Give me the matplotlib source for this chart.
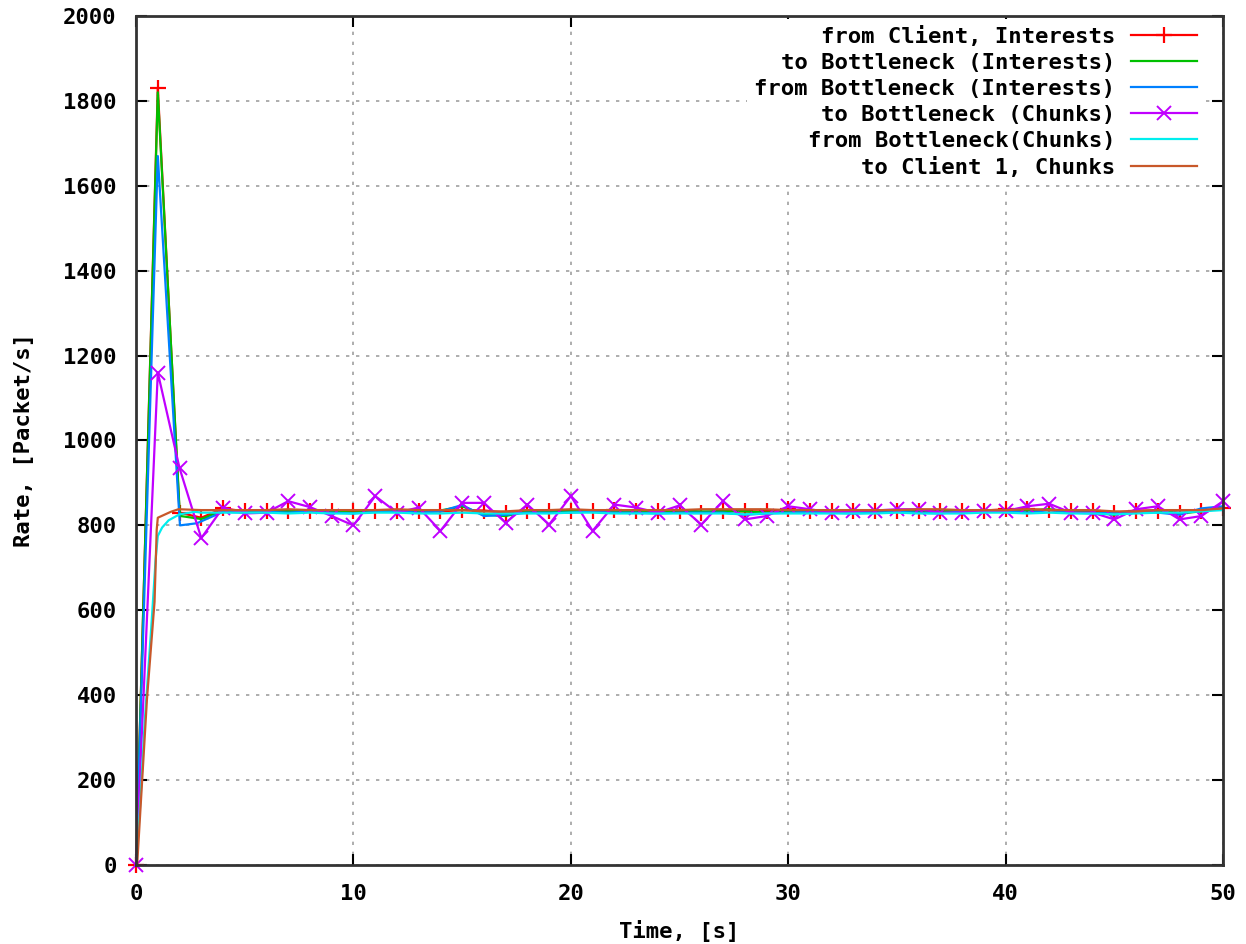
import matplotlib
matplotlib.use('Agg')
import matplotlib.pyplot as plt

# ---- data ----
t_int = list(range(0, 51))
t_steady = list(range(4, 51))

# from Client, Interests (points every second)
red_v = [0, 1830, 830, 818, 840, 833, 833, 835, 835, 833,
         833, 835, 833, 835, 833, 836, 835, 830, 835, 833,
         835, 833, 836, 833, 833, 835, 830, 835, 833, 833,
         838, 833, 833, 835, 835, 835, 835, 833, 835, 835,
         838, 838, 836, 833, 835, 830, 835, 835, 830, 833,
         842]

# to Bottleneck (Interests)
green_t = [0, 1, 2, 2.05, 3] + t_steady
green_v = [0, 1820, 838, 822, 815,
           835, 833, 833, 833, 835, 833, 830, 833, 835, 833,
           835, 845, 825, 822, 833, 833, 833, 835, 833, 833,
           833, 835, 833, 833, 833, 830, 833, 833, 833, 833,
           833, 835, 833, 833, 835, 835, 835, 835, 838, 833,
           830, 825, 833, 835, 828, 833, 840]

# from Bottleneck (Interests)
blue_t = [0, 1, 1.97, 2.02, 2.8] + t_steady
blue_v = [0, 1670, 840, 800, 805,
          832, 830, 832, 830, 833, 830, 828, 832, 833, 830,
          833, 848, 822, 825, 830, 830, 830, 833, 830, 830,
          828, 830, 830, 830, 825, 828, 830, 832, 830, 828,
          830, 832, 830, 828, 833, 833, 835, 830, 836, 830,
          828, 830, 833, 830, 825, 840, 845]

# to Bottleneck (Chunks)
mag_v = [0, 1160, 935, 770, 842, 828, 830, 857, 843, 822,
         800, 869, 830, 842, 787, 853, 853, 806, 849, 802,
         869, 787, 849, 842, 830, 847, 802, 857, 814, 822,
         845, 838, 830, 834, 835, 838, 838, 830, 830, 834,
         834, 845, 851, 830, 830, 814, 838, 845, 814, 822,
         857]

# from Bottleneck(Chunks)
cyan_t = [0, 0.2, 0.4, 0.7, 0.9, 1.0, 1.2, 1.5, 2.0, 2.7, 3] + t_steady
cyan_v = [0, 150, 340, 560, 720, 775, 795, 812, 826, 832, 830,
          830, 830, 830, 828, 830, 828, 828, 830, 830, 828,
          828, 830, 828, 828, 828, 828, 830, 830, 828, 828,
          828, 828, 828, 828, 826, 828, 828, 828, 828, 828,
          828, 830, 828, 828, 828, 830, 830, 828, 830, 828,
          828, 826, 828, 830, 830, 833, 836]

# to Client 1, Chunks
orange_t = [0.05, 0.5, 0.85, 0.95, 1.0, 1.3, 1.6, 1.95, 3] + t_steady
orange_v = [0, 390, 620, 790, 818, 825, 832, 838, 836,
            836, 836, 836, 838, 836, 836, 836, 836, 838, 836,
            836, 836, 833, 833, 836, 836, 838, 836, 836, 836,
            836, 836, 838, 838, 838, 838, 836, 836, 836, 836,
            836, 836, 838, 838, 836, 836, 836, 838, 836, 836,
            836, 833, 833, 836, 836, 836, 840]

labels = ['from Client, Interests', 'to Bottleneck (Interests)',
          'from Bottleneck (Interests)', 'to Bottleneck (Chunks)',
          'from Bottleneck(Chunks)', 'to Client 1, Chunks']

plt.rcParams['font.family'] = ['DejaVu Sans Mono']
plt.rcParams['font.weight'] = 'bold'
plt.rcParams['font.size'] = 16

fig = plt.figure(figsize=(12.46, 9.44), dpi=100)
ax = fig.add_axes([0.1092, 0.0837, 0.8724, 0.8994])

lw = 1.6
ax.plot(t_int, red_v, color='#ff0000', lw=lw, marker='+', ms=11, mew=1.6,
        label=labels[0], clip_on=False)
ax.plot(green_t, green_v, color='#00c000', lw=lw, label=labels[1])
ax.plot(blue_t, blue_v, color='#0080ff', lw=lw, label=labels[2])
ax.plot(t_int, mag_v, color='#c000ff', lw=lw, marker='x', ms=10, mew=1.4,
        label=labels[3], clip_on=False)
ax.plot(cyan_t, cyan_v, color='#00eeee', lw=lw, label=labels[4])
ax.plot(orange_t, orange_v, color='#c8582a', lw=lw, label=labels[5])

ax.set_xlim(0, 50)
ax.set_ylim(0, 2000)
ax.set_xticks(range(0, 51, 10))
ax.set_yticks(range(0, 2001, 200))
ax.grid(True, color='#a0a0a0', linestyle=(0, (2, 4)), linewidth=1.2)
ax.tick_params(direction='in', length=8, width=1.5, top=True, right=True,
               labelsize=16, pad=14)
for s in ax.spines.values():
    s.set_linewidth(2)
    s.set_color('#333333')

ax.set_xlabel('Time, [s]', fontsize=16, fontweight='bold', labelpad=11)
ax.set_ylabel('Rate, [Packet/s]', fontsize=16, fontweight='bold', labelpad=21)

leg = ax.legend(loc='upper right', bbox_to_anchor=(0.9825, 0.996),
                markerfirst=False, frameon=True,
                fancybox=False, framealpha=1, edgecolor='none',
                handlelength=3.0, handletextpad=0.7, labelspacing=0.27,
                borderaxespad=0, borderpad=0.3, fontsize=16)

fig.savefig('out.png', dpi=100)
